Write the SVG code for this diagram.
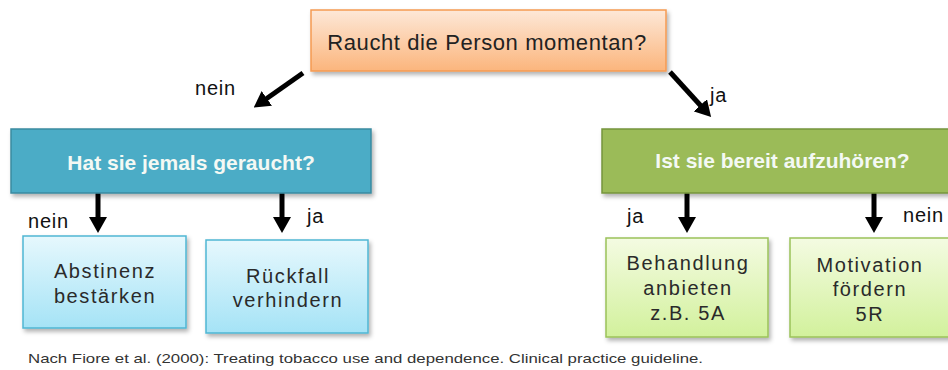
<svg xmlns="http://www.w3.org/2000/svg" width="948" height="370" viewBox="0 0 948 370">
<defs>
<linearGradient id="gOrange" x1="0" y1="0" x2="0" y2="1">
<stop offset="0" stop-color="#fde8d8"/><stop offset="1" stop-color="#fbb57c"/>
</linearGradient>
<linearGradient id="gBlue" x1="0" y1="0" x2="0" y2="1">
<stop offset="0" stop-color="#e6f8fd"/><stop offset="1" stop-color="#a5e3f6"/>
</linearGradient>
<linearGradient id="gGreen" x1="0" y1="0" x2="0" y2="1">
<stop offset="0" stop-color="#f4fbe2"/><stop offset="1" stop-color="#d2f19c"/>
</linearGradient>
<filter id="shadow" x="-10%" y="-10%" width="130%" height="140%">
<feDropShadow dx="2" dy="3" stdDeviation="2" flood-color="#000" flood-opacity="0.3"/>
</filter>
<marker id="head" markerUnits="userSpaceOnUse" markerWidth="16" markerHeight="18" refX="1" refY="9" orient="auto">
<path d="M0,0 L16,9 L0,18 z" fill="#000"/>
</marker>
</defs>
<style>
.box{filter:url(#shadow);stroke-width:1.5}
.lbl{font-family:"Liberation Sans",Arial,sans-serif;font-size:20px;fill:#111;letter-spacing:0.8px}
.head{font-family:"Liberation Sans",Arial,sans-serif;font-size:21px;font-weight:bold;fill:#f4f9f4;text-anchor:middle}
.body{font-family:"Liberation Sans",Arial,sans-serif;font-size:20px;fill:#2a2a2a;text-anchor:middle;letter-spacing:1.6px}
.conn line{stroke:#000;stroke-width:5;marker-end:url(#head)}
</style>
<g id="connectors" class="conn">
<line x1="303" y1="73" x2="266" y2="99"/>
<line x1="670" y1="72" x2="701" y2="106"/>
<line x1="98" y1="193" x2="98" y2="218"/>
<line x1="282" y1="193" x2="282" y2="218"/>
<line x1="687" y1="193" x2="687" y2="218"/>
<line x1="874" y1="193" x2="874" y2="218"/>
</g>
<g id="edge-labels">
<text class="lbl" x="195" y="95">nein</text>
<text class="lbl" x="710" y="102">ja</text>
<text class="lbl" x="28" y="228">nein</text>
<text class="lbl" x="307" y="223">ja</text>
<text class="lbl" x="627" y="223">ja</text>
<text class="lbl" x="903" y="222">nein</text>
</g>
<g id="node-start">
<rect class="box" x="311" y="10" width="355" height="61" fill="url(#gOrange)" stroke="#f59a52"/>
<text x="487" y="50" font-family="Liberation Sans, Arial, sans-serif" font-size="22" fill="#222" text-anchor="middle" letter-spacing="0.6">Raucht die Person momentan?</text>
</g>
<g id="node-jemals">
<rect class="box" x="11" y="129" width="360" height="64" fill="#4bacc6" stroke="#3a8aa0"/>
<text class="head" x="191" y="170">Hat sie jemals geraucht?</text>
</g>
<g id="node-bereit">
<rect class="box" x="602" y="129" width="361" height="64" fill="#9bbb59" stroke="#76953c"/>
<text class="head" x="782.5" y="168">Ist sie bereit aufzuhören?</text>
</g>
<g id="node-abstinenz">
<rect class="box" x="23" y="236" width="163" height="92" fill="url(#gBlue)" stroke="#4fb6d3"/>
<text class="body" x="105" y="278">Abstinenz</text>
<text class="body" x="105" y="303">bestärken</text>
</g>
<g id="node-rueckfall">
<rect class="box" x="206" y="240" width="162" height="93" fill="url(#gBlue)" stroke="#4fb6d3"/>
<text class="body" x="288" y="283">Rückfall</text>
<text class="body" x="288" y="307">verhindern</text>
</g>
<g id="node-behandlung">
<rect class="box" x="606" y="238" width="162" height="99" fill="url(#gGreen)" stroke="#9bc25a"/>
<text class="body" x="688" y="270">Behandlung</text>
<text class="body" x="688" y="295">anbieten</text>
<text class="body" x="688" y="320">z.B. 5A</text>
</g>
<g id="node-motivation">
<rect class="box" x="790" y="238" width="162" height="99" fill="url(#gGreen)" stroke="#9bc25a"/>
<text class="body" x="870" y="272">Motivation</text>
<text class="body" x="870" y="296">fördern</text>
<text class="body" x="870" y="321">5R</text>
</g>
<text x="28" y="363" font-family="Liberation Sans, Arial, sans-serif" font-size="13.5" fill="#333" textLength="675" lengthAdjust="spacingAndGlyphs">Nach Fiore et al. (2000): Treating tobacco use and dependence. Clinical practice guideline.</text>
</svg>
